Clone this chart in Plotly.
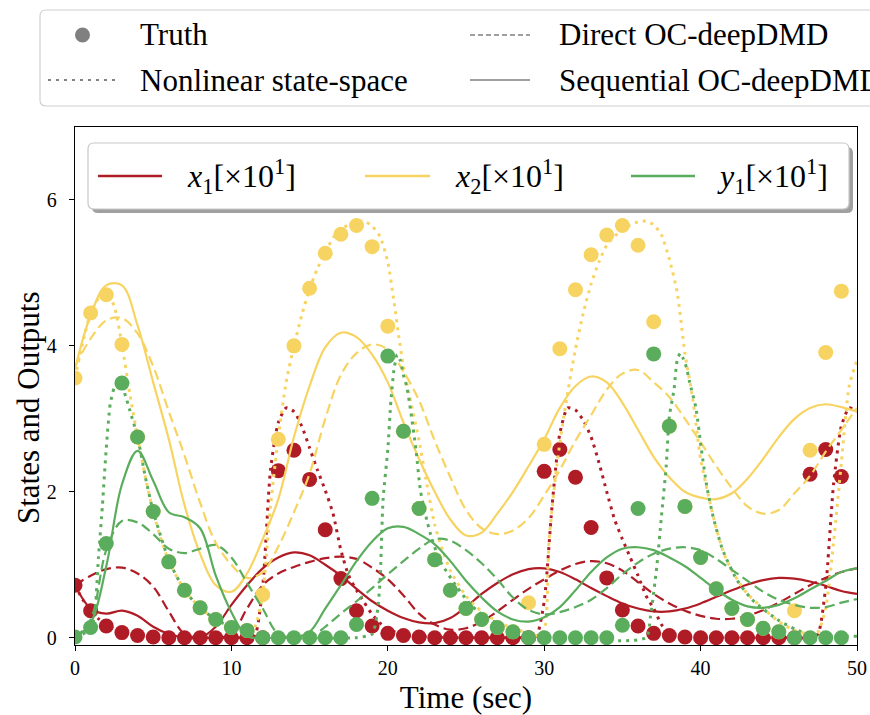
import plotly.graph_objects as go

# ---------------- data ----------------
t_truth = list(range(50))

x1_truth = [0.72, 0.37, 0.16, 0.07, 0.03, 0.01, 0.0, 0.0, 0.0, 0.0, 0.0, 0.0, 0.0,
            2.29, 2.57, 2.17, 1.48, 0.81, 0.37, 0.16, 0.06, 0.03, 0.01,
            0, 0, 0, 0, 0, 0, 0,
            2.28, 2.58, 2.20, 1.51, 0.82, 0.38, 0.16, 0.06, 0.03, 0.01,
            0, 0, 0, 0, 0, 0, 0,
            2.24, 2.58, 2.21]
x2_truth = [3.56, 4.45, 4.70, 4.02, 2.75, 1.73, 1.04, 0.65, 0.41, 0.25, 0.14, 0.10,
            0.59, 2.72, 4.00, 4.79, 5.27, 5.53, 5.65, 5.36, 4.27,
            2.83, 1.77, 1.07, 0.65, 0.40, 0.25, 0.14, 0.08,
            0.48, 2.65, 3.96, 4.77, 5.25, 5.52, 5.65, 5.38, 4.33,
            2.90, 1.80, 1.10, 0.67, 0.40, 0.25, 0.13, 0.08,
            0.37, 2.57, 3.91, 4.75]
y1_truth = [0.01, 0.14, 1.29, 3.49, 2.75, 1.73, 1.04, 0.65, 0.41, 0.25, 0.14, 0.10,
            0, 0, 0, 0, 0, 0,
            0.18, 1.91, 3.86, 2.83, 1.77, 1.07, 0.65, 0.40, 0.25, 0.14, 0.08,
            0, 0, 0, 0, 0, 0,
            0.17, 1.77, 3.89, 2.90, 1.80, 1.10, 0.67, 0.40, 0.25, 0.13, 0.08,
            0, 0, 0, 0]

# model predictions sampled every second (0..50)
t_model = list(range(51))

x1_direct = [0.72, 0.85, 0.94, 0.96, 0.88, 0.70, 0.36, 0.05, 0.0, 0.0, 0.05,
             0.40, 0.72, 0.88, 0.97, 1.04, 1.09, 1.11, 1.08, 0.96, 0.80,
             0.58, 0.33, 0.18, 0.11, 0.13, 0.22, 0.36, 0.52, 0.67, 0.80,
             0.92, 1.01, 1.05, 1.02, 0.92, 0.76, 0.60, 0.47, 0.37, 0.30,
             0.26, 0.26, 0.30, 0.38, 0.48, 0.60, 0.72, 0.82, 0.90, 0.95]
x1_seq = [0.72, 0.40, 0.33, 0.37, 0.30, 0.15, 0.05, 0.0, 0.0, 0.15, 0.45,
          0.72, 0.95, 1.10, 1.17, 1.13, 1.00, 0.85, 0.67, 0.50, 0.37,
          0.27, 0.21, 0.20, 0.27, 0.42, 0.60, 0.75, 0.87, 0.94, 0.95,
          0.90, 0.80, 0.68, 0.57, 0.47, 0.40, 0.36, 0.36, 0.40, 0.47,
          0.56, 0.65, 0.73, 0.79, 0.82, 0.81, 0.77, 0.71, 0.64, 0.60]
x2_direct = [3.72, 4.10, 4.35, 4.38, 4.17, 3.72, 3.10, 2.50, 1.85, 1.30, 1.00,
             0.82, 0.90, 1.25, 1.72, 2.25, 3.00, 3.60, 3.90, 4.02, 3.95,
             3.65, 3.25, 2.70, 2.20, 1.75, 1.50, 1.42, 1.47, 1.64, 1.95,
             2.30, 2.70, 3.05, 3.40, 3.62, 3.67, 3.50, 3.30, 3.00, 2.68,
             2.35, 2.05, 1.80, 1.70, 1.75, 1.98, 2.22, 2.55, 2.85, 3.15]
x2_seq = [3.68, 4.42, 4.83, 4.83, 4.28, 3.50, 2.72, 1.82, 1.15, 0.72, 0.63,
          0.88, 1.35, 1.90, 2.75, 3.45, 3.98, 4.18, 4.12, 3.88, 3.50,
          2.95, 2.45, 2.00, 1.62, 1.40, 1.44, 1.70, 2.00, 2.35, 2.72,
          3.15, 3.45, 3.58, 3.50, 3.22, 2.85, 2.48, 2.20, 2.00, 1.92,
          1.90, 1.98, 2.18, 2.45, 2.75, 3.00, 3.15, 3.20, 3.16, 3.10]
y1_direct = [0.0, 0.25, 1.20, 1.60, 1.58, 1.42, 1.22, 1.16, 1.22, 1.27, 1.10,
             0.75, 0.40, 0.05, 0.0, 0.0, 0.15, 0.33, 0.50, 0.68, 0.87,
             1.05, 1.22, 1.35, 1.33, 1.20, 1.02, 0.80, 0.55, 0.38, 0.32,
             0.35, 0.42, 0.52, 0.68, 0.87, 1.03, 1.15, 1.22, 1.24, 1.20,
             1.08, 0.93, 0.78, 0.63, 0.52, 0.45, 0.41, 0.42, 0.48, 0.53]
y1_seq = [0.0, 0.20, 0.98, 2.10, 2.56, 2.15, 1.72, 1.65, 1.50, 0.85, 0.35,
          0.02, 0.0, 0.0, 0.0, 0.08, 0.40, 0.72, 1.05, 1.32, 1.50,
          1.52, 1.42, 1.28, 1.05, 0.78, 0.55, 0.36, 0.25, 0.22, 0.28,
          0.42, 0.65, 0.90, 1.10, 1.22, 1.24, 1.20, 1.10, 0.98, 0.82,
          0.66, 0.52, 0.43, 0.41, 0.45, 0.54, 0.66, 0.78, 0.90, 0.95]

# nonlinear state-space predictions (finer knots around the sharp pulses)
t_x1_nl = [0, 0.5, 1, 1.5, 2, 3, 4, 5, 6, 8, 10, 11, 11.5, 12, 12.5, 13, 13.5, 14,
           14.5, 15, 15.5, 16, 16.5, 17, 17.5, 18, 18.5, 19, 19.5, 20, 21, 22,
           24, 26, 28, 29, 29.5, 30, 30.5, 31, 31.5, 32, 32.5, 33, 33.5, 34,
           34.5, 35, 35.5, 36, 36.5, 37, 37.5, 38, 39, 40, 42, 44, 46, 47,
           47.5, 48, 48.5, 49, 49.5, 50]
x1_nl = [0.72, 0.52, 0.38, 0.26, 0.17, 0.08, 0.03, 0.01, 0, 0, 0, 0, 0.03, 0.7,
         2.3, 2.95, 3.15, 3.1, 2.9, 2.6, 2.3, 2.02, 1.7, 1.2, 0.85, 0.65, 0.48,
         0.32, 0.2, 0.12, 0.04, 0.02, 0, 0, 0, 0, 0.02, 0.5, 1.8, 2.8, 3.15,
         3.12, 2.98, 2.75, 2.4, 2.0, 1.62, 1.35, 1.1, 0.85, 0.58, 0.4, 0.18,
         0.07, 0.02, 0, 0, 0, 0, 0, 0.05, 0.7, 2.1, 2.9, 3.15, 3.1]
t_x2_nl = [0, 0.5, 1, 1.5, 2, 2.5, 3, 3.5, 4, 4.5, 5, 5.5, 6, 7, 8, 9, 10, 11,
           11.5, 12, 12.5, 13, 13.5, 14, 14.5, 15, 15.5, 16, 16.5, 17, 17.5,
           18, 18.5, 19, 19.5, 20, 20.4, 20.7, 21, 21.4, 22, 22.5, 23, 23.5,
           24, 25, 26, 27, 28, 29, 29.5, 30, 30.3, 30.8, 31.3, 32, 32.5, 33,
           33.5, 34, 35, 36, 36.5, 37, 37.5, 38, 38.5, 39, 39.5, 40, 40.5, 41,
           41.5, 42, 42.5, 43, 44, 45, 46, 47, 47.5, 48, 48.5, 49, 49.5, 50]
x2_nl = [3.56, 4.05, 4.45, 4.65, 4.72, 4.55, 4.02, 3.35, 2.75, 2.2, 1.73, 1.35,
         1.05, 0.65, 0.41, 0.25, 0.14, 0.08, 0.15, 0.6, 1.8, 2.75, 3.5, 4.0,
         4.42, 4.78, 5.06, 5.28, 5.48, 5.6, 5.66, 5.7, 5.71, 5.64, 5.5, 5.15,
         4.6, 4.13, 3.72, 3.3, 2.7, 2.1, 1.55, 1.2, 0.92, 0.57, 0.36, 0.22,
         0.13, 0.06, 0.03, 0.1, 1.3, 2.35, 3.1, 3.96, 4.45, 4.85, 5.15, 5.38,
         5.6, 5.7, 5.71, 5.66, 5.52, 5.19, 4.74, 3.9, 3.27, 2.45, 1.95, 1.5,
         1.15, 0.92, 0.75, 0.6, 0.4, 0.22, 0.1, 0.05, 0.08, 0.4, 1.3, 2.4,
         3.45, 3.8]
t_y1_nl = [0, 0.5, 1, 1.25, 1.5, 1.75, 2, 2.25, 2.5, 2.75, 3, 3.25, 3.5, 4,
           4.5, 5, 5.5, 6, 7, 8, 9, 10, 11, 12, 13, 14, 18, 19, 19.3, 19.5,
           19.7, 20, 20.2, 20.4, 20.6, 20.8, 21, 21.2, 21.4, 21.8, 22.1, 22.7,
           23.3, 24.4, 25.4, 26.5, 28.2, 29, 30, 36.5, 36.8, 37.2, 37.5, 37.8,
           38, 38.3, 38.5, 38.7, 38.9, 39.1, 39.3, 39.7, 40.05, 40.4, 40.8,
           41.4, 42.3, 43.3, 44.9, 46.1, 47, 48, 50]
y1_nl = [0.02, 0.05, 0.12, 0.3, 1.1, 1.8, 2.6, 3.2, 3.42, 3.5, 3.45, 3.3, 3.12,
         2.75, 2.2, 1.73, 1.38, 1.06, 0.65, 0.41, 0.25, 0.15, 0.09, 0.04, 0.01,
         0, 0, 0.05, 0.3, 0.75, 1.9, 2.58, 3.25, 3.68, 3.88, 3.8, 3.6, 3.45,
         3.2, 2.58, 2.0, 1.44, 1.07, 0.7, 0.43, 0.25, 0.11, 0.05, 0, 0, 0.3,
         0.98, 1.67, 2.35, 3.03, 3.4, 3.8, 3.9, 3.82, 3.7, 3.5, 3.15, 2.58,
         2.07, 1.66, 1.21, 0.8, 0.52, 0.25, 0.11, 0.05, 0.02, 0.02]

# ---------------- styling ----------------
RED = "#b01c26"
YELLOW = "#f7d462"
GREEN = "#5aad5c"
GRAY = "#808080"
FONT = "Liberation Serif"

W, H = 870, 715
ML, MR, MT, MB = 75, 13, 127, 70
PW = W - ML - MR
PH = H - MT - MB


def px(x):
    return (x - ML) / PW


def py(y):
    return (H - MB - y) / PH


def rrect_path(x0, y0, x1, y1, r):
    pts = [("M", (x0 + r, y0)), ("L", (x1 - r, y0)), ("Q", (x1, y0), (x1, y0 + r)),
           ("L", (x1, y1 - r)), ("Q", (x1, y1), (x1 - r, y1)), ("L", (x0 + r, y1)),
           ("Q", (x0, y1), (x0, y1 - r)), ("L", (x0, y0 + r)), ("Q", (x0, y0), (x0 + r, y0))]
    out = []
    for item in pts:
        cmd = item[0]
        coords = " ".join(f"{px(a):.5f},{py(b):.5f}" for a, b in item[1:])
        out.append(f"{cmd}{coords}")
    return " ".join(out) + " Z"


DOT = "3px,5px"
DASH = "10px,5px"

fig = go.Figure()

series = [
    (x1_truth, t_x1_nl, x1_nl, x1_direct, x1_seq, RED),
    (x2_truth, t_x2_nl, x2_nl, x2_direct, x2_seq, YELLOW),
    (y1_truth, t_y1_nl, y1_nl, y1_direct, y1_seq, GREEN),
]

for truth, t_nl, nl, direct, seq, col in series:
    fig.add_trace(go.Scatter(x=t_truth, y=truth, mode="markers",
                             marker=dict(size=15, color=col, line=dict(width=0)),
                             showlegend=False, cliponaxis=True))
    fig.add_trace(go.Scatter(x=t_nl, y=nl, mode="lines",
                             line=dict(color=col, width=3, dash=DOT, shape="spline", smoothing=0.6),
                             showlegend=False))
    fig.add_trace(go.Scatter(x=t_model, y=direct, mode="lines",
                             line=dict(color=col, width=2.2, dash=DASH, shape="spline", smoothing=1.0),
                             showlegend=False))
    fig.add_trace(go.Scatter(x=t_model, y=seq, mode="lines",
                             line=dict(color=col, width=2.2, shape="spline", smoothing=1.0),
                             showlegend=False))

shapes = []
annotations = []

# outer legend (model styles)
shapes.append(dict(type="path", xref="paper", yref="paper",
                   path=rrect_path(40, 10, 900, 106, 6),
                   line=dict(color="#d0d0d0", width=1.2), fillcolor="white", layer="above"))
shapes.append(dict(type="circle", xref="paper", yref="paper",
                   x0=px(75), x1=px(90), y0=py(42.5), y1=py(27.5),
                   line=dict(width=0), fillcolor=GRAY, layer="above"))
for (xa, xb, yy, dash, wdt) in [(48, 118, 80, DOT, 2.2), (470, 530, 35, "5px,3px", 1.4),
                                 (470, 530, 80, "solid", 1.6)]:
    shapes.append(dict(type="line", xref="paper", yref="paper",
                       x0=px(xa), x1=px(xb), y0=py(yy), y1=py(yy),
                       line=dict(color=GRAY, width=wdt, dash=dash), layer="above"))
for txt, xx, yy in [("Truth", 138, 35), ("Nonlinear state-space", 138, 80),
                    ("Direct OC-deepDMD", 557, 35), ("Sequential OC-deepDMD", 557, 80)]:
    annotations.append(dict(text=txt, xref="paper", yref="paper", x=px(xx), y=py(yy),
                            xanchor="left", yanchor="middle", showarrow=False,
                            font=dict(family=FONT, size=31, color="black")))

# inner legend (states / output)
shapes.append(dict(type="path", xref="paper", yref="paper",
                   path=rrect_path(92, 147, 853, 213, 6),
                   line=dict(width=0), fillcolor="#a0a0a0", layer="above"))
shapes.append(dict(type="path", xref="paper", yref="paper",
                   path=rrect_path(88, 143, 849, 209, 6),
                   line=dict(color="#c8c8c8", width=1.2), fillcolor="white", layer="above"))
for col, xa, xb, txt, xt in [
        (RED, 98, 162, "<i>x</i><sub>1</sub>[×10<sup>1</sup>]", 185),
        (YELLOW, 365, 430, "<i>x</i><sub>2</sub>[×10<sup>1</sup>]", 453),
        (GREEN, 631, 695, "<i>y</i><sub>1</sub>[×10<sup>1</sup>]", 715)]:
    shapes.append(dict(type="line", xref="paper", yref="paper",
                       x0=px(xa), x1=px(xb), y0=py(176), y1=py(176),
                       line=dict(color=col, width=2.4), layer="above"))
    annotations.append(dict(text=txt, xref="paper", yref="paper", x=px(xt), y=py(176),
                            xanchor="left", yanchor="middle", showarrow=False,
                            font=dict(family=FONT, size=32, color="black")))

# y-axis label
annotations.append(dict(text="States and Outputs", xref="paper", yref="paper",
                        x=px(28), y=py(408), xanchor="center", yanchor="middle",
                        textangle=-90, showarrow=False,
                        font=dict(family=FONT, size=31, color="black")))

axis_common = dict(showline=True, mirror=True, linecolor="black", linewidth=1.3,
                   ticks="outside", ticklen=5, tickwidth=1.3, tickcolor="black",
                   showgrid=False, zeroline=False,
                   tickfont=dict(family=FONT, size=20, color="black"))

fig.update_layout(
    width=W, height=H,
    margin=dict(l=ML, r=MR, t=MT, b=MB, autoexpand=False),
    paper_bgcolor="white", plot_bgcolor="white",
    showlegend=False,
    xaxis=dict(range=[0, 50], tickvals=[0, 10, 20, 30, 40, 50],
               title=dict(text="Time (sec)", font=dict(family=FONT, size=31, color="black"),
                          standoff=8),
               **axis_common),
    yaxis=dict(range=[-0.1, 7.0], tickvals=[0, 2, 4, 6], ticklabelstandoff=8,
               **axis_common),
    shapes=shapes,
    annotations=annotations,
)

fig.write_html("out.html")
